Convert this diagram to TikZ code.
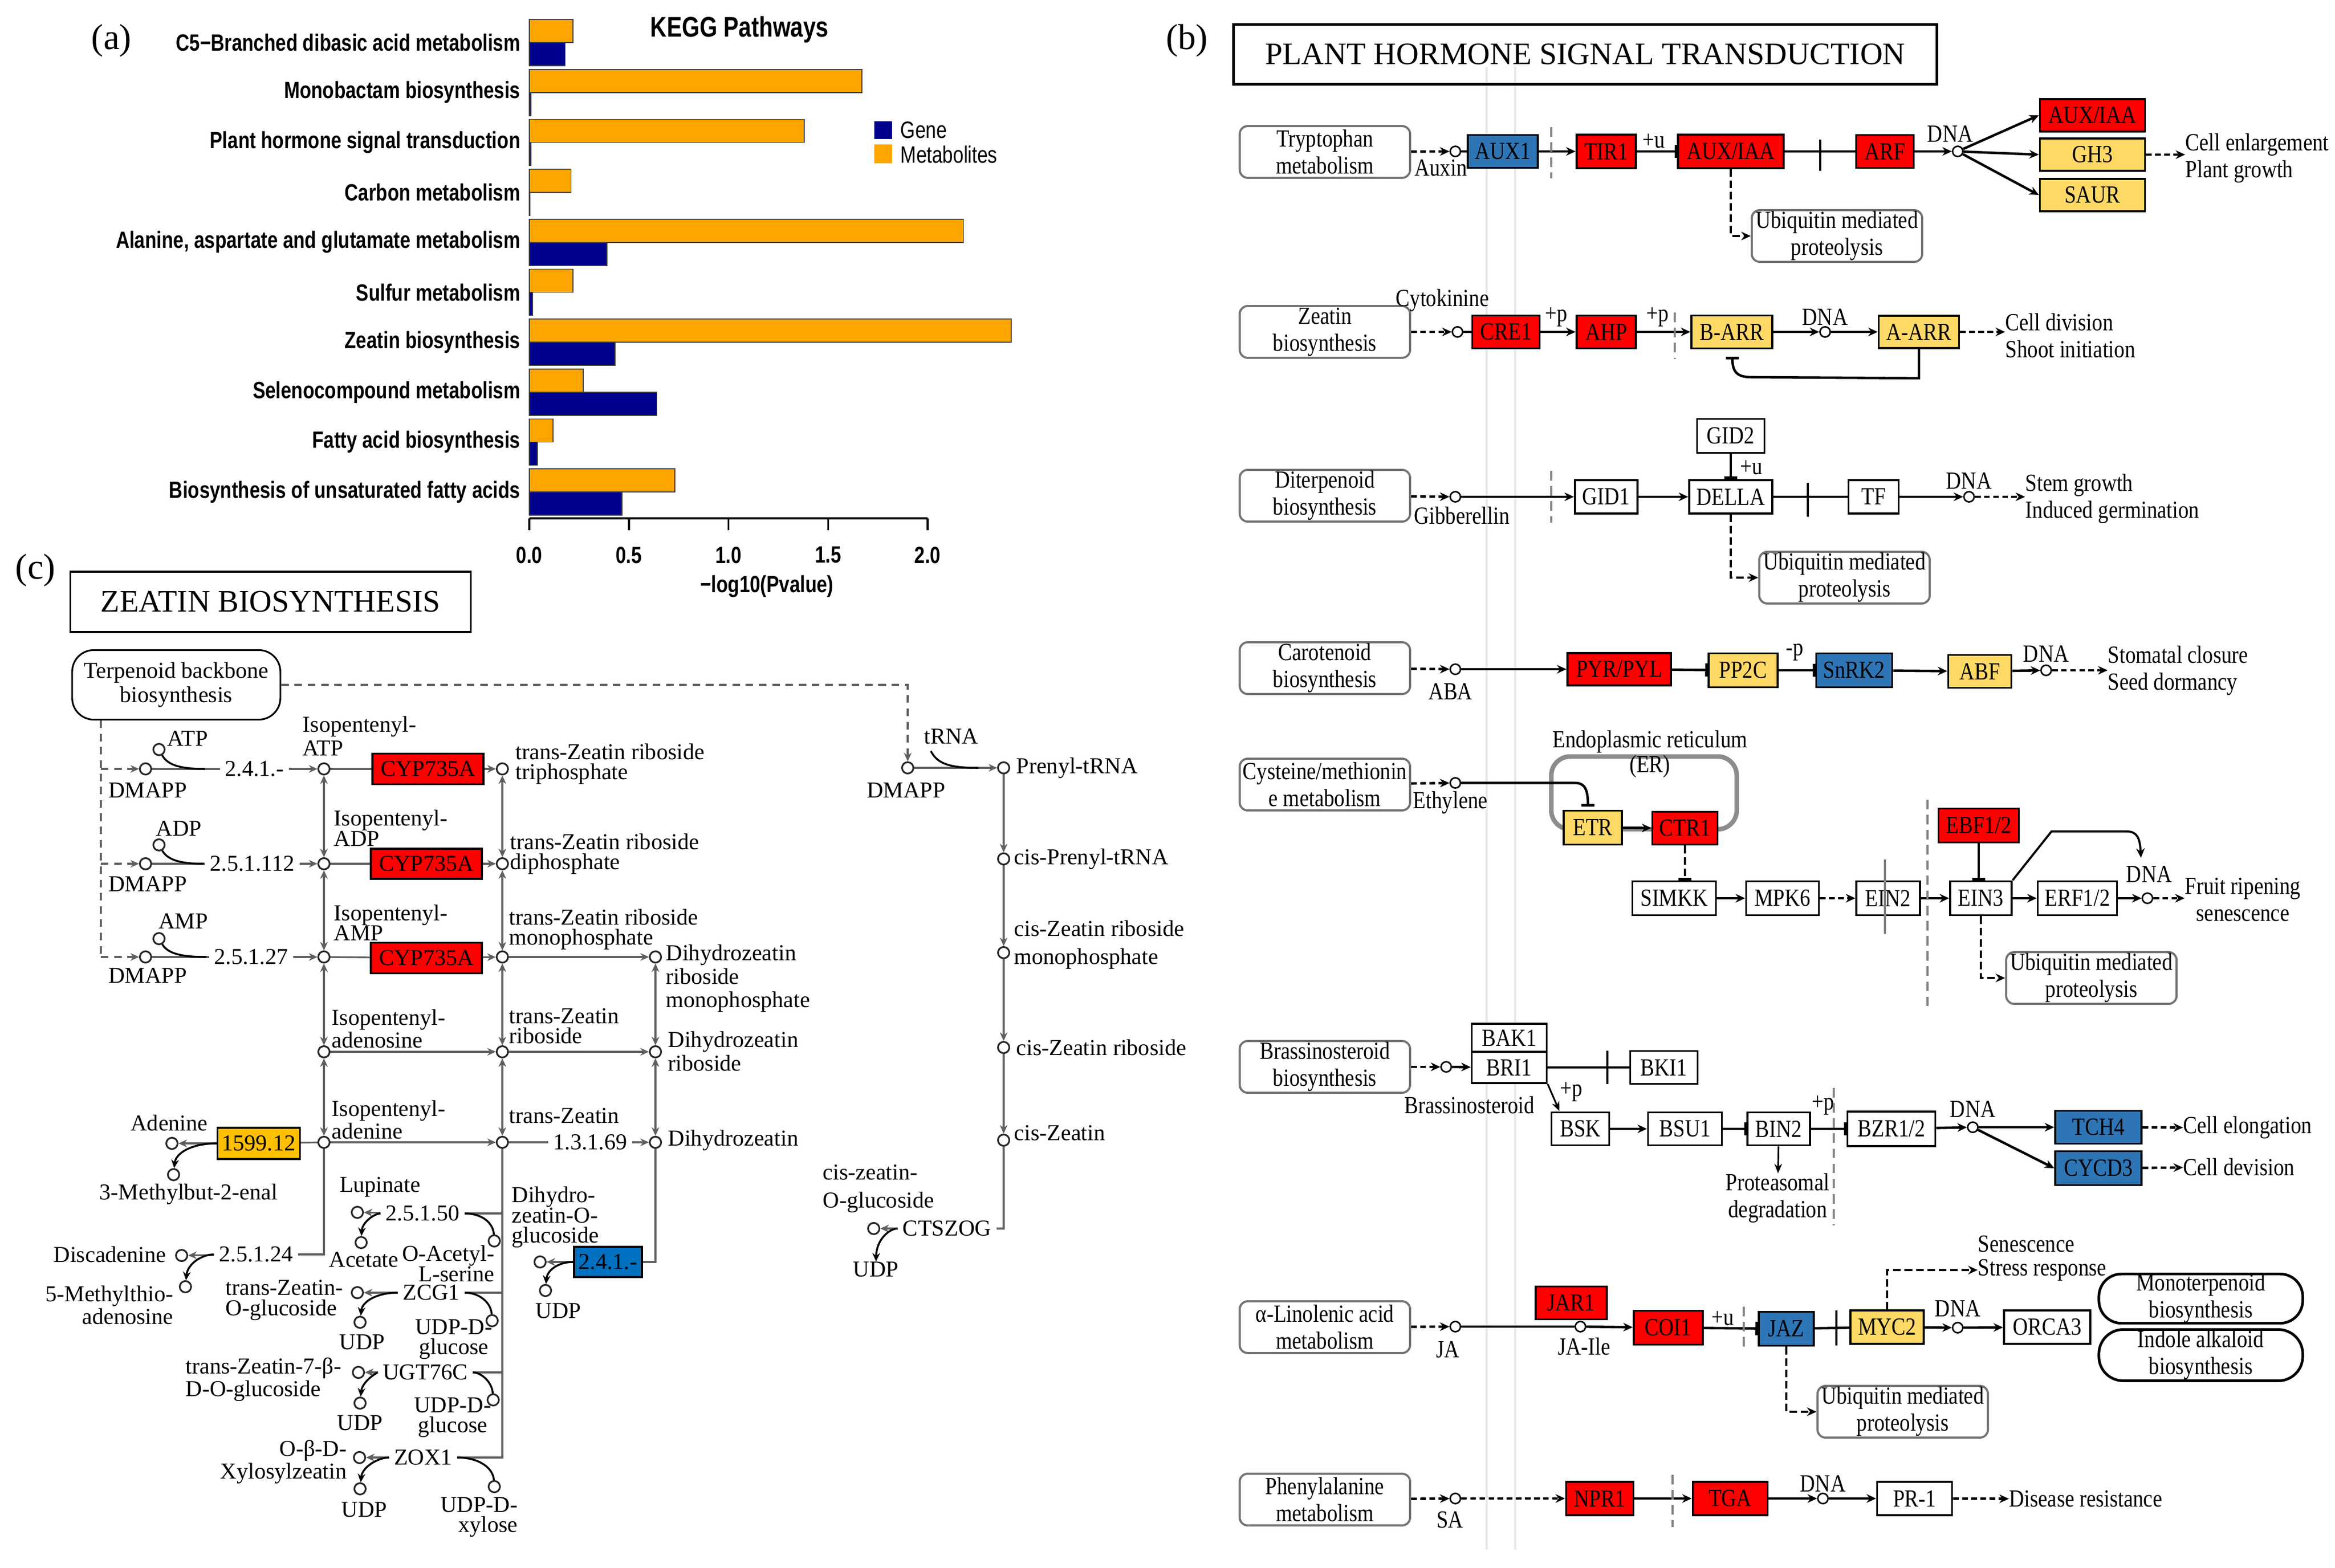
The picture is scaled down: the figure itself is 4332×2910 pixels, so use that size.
\documentclass[tikz,border=0pt]{standalone}
\usepackage{fontspec}
\setmainfont{Liberation Serif}
\setsansfont{Liberation Sans}
\newfontfamily\asans[FakeStretch=0.8]{Liberation Sans}
\newfontfamily\bserif[FakeStretch=0.85]{Liberation Serif}
\usetikzlibrary{arrows.meta,calc}
\definecolor{kred}{RGB}{255,0,0}
\definecolor{kyel}{RGB}{255,217,102}
\definecolor{kblue}{RGB}{46,117,182}
\definecolor{cgold}{RGB}{255,192,0}
\definecolor{cblue}{RGB}{0,112,192}
\definecolor{barorange}{RGB}{255,165,0}
\definecolor{barnavy}{RGB}{0,0,140}
\definecolor{cgray}{RGB}{95,95,95}
\newcommand\pafont{\asans\bfseries\fontsize{12.4}{14}\selectfont}
\newcommand\pbfont{\bserif\fontsize{13}{14.2}\selectfont}
\newcommand\pcfont{\fontsize{12}{10.6}\selectfont}
\newcommand\pcfontw{\fontsize{12}{12.4}\selectfont}
\newcommand\pcfontx{\fontsize{12}{14.8}\selectfont}
\newcommand\mkgene[7]{\node[gene,fill=#6,minimum width=#4*0.01cm,minimum height=#5*0.01cm] (#1) at (#2,#3) {#7};}
\newcommand\mkpath[4]{\node[pathbox] (#1) at (#2,#3) {#4};}
\begin{document}
\begin{tikzpicture}[x=0.01cm,y=-0.01cm,
 gene/.style={draw=black,line width=1.1pt,font=\pbfont,inner sep=0pt},
 pathbox/.style={draw=black!55,line width=1.1pt,rounded corners=0.15cm,font=\pbfont,align=center,inner sep=0pt,minimum width=3.16cm,minimum height=0.96cm,fill=white},
 met/.style={circle,draw=black,fill=white,line width=0.8pt,minimum size=0.19cm,inner sep=0pt},
 lab/.style={font=\pbfont,inner sep=0pt},
 ar/.style={line width=1.3pt,-{Stealth[length=5pt,width=4.5pt]}},
 pl/.style={line width=1.3pt},
 dar/.style={line width=1.3pt,dash pattern=on 3pt off 1.8pt,-{Stealth[length=5pt,width=4.5pt]}},
 tdar/.style={line width=0.9pt,dash pattern=on 4pt off 2pt,-{Stealth[length=5pt,width=4.5pt]}},
 inh/.style={line width=1.3pt,-{Bar[width=7pt,line width=1.3pt]}},
 sepl/.style={draw=gray,line width=1.1pt,dash pattern=on 5pt off 3pt},
 xbar/.style={draw=black,line width=0.9pt},
 barm/.style={fill=barorange,draw=black!75,line width=0.5pt},
 barg/.style={fill=barnavy,draw=black!75,line width=0.5pt},
 alab/.style={anchor=east,font=\pafont,inner sep=0pt},
 cgene/.style={draw=black,line width=0.9pt,font=\pcfont,inner sep=0pt},
 cmet/.style={circle,draw=black!85,fill=white,line width=0.9pt,minimum size=0.21cm,inner sep=0pt},
 clab/.style={font=\pcfont,inner sep=0pt},
 cenz/.style={font=\pcfont,inner sep=2.5pt},
 cline/.style={draw=cgray,line width=0.9pt},
 carr/.style={cline,-{Stealth[length=4.5pt,width=4pt]}},
 cbi/.style={cline,{Stealth[length=4.5pt,width=4pt]}-{Stealth[length=4.5pt,width=4pt]}},
 cdash/.style={cline,dash pattern=on 4pt off 3pt},
 cdasharr/.style={cdash,-{Stealth[length=4.5pt,width=4pt]}},
 cside/.style={draw=black,line width=1pt},
 csidearr/.style={cside,-{Stealth[length=4.5pt,width=4pt]}}
]
\useasboundingbox (0,0) rectangle (4332,2910);
\fill[white] (0,0) rectangle (4332,2910);

%% ================= PANEL A =================
\node[font=\fontsize{19}{20}\selectfont] (pla) at (207,75) {(a)};
\node[font=\asans\bfseries\fontsize{15}{16}\selectfont] (kegg) at (1372,55) {KEGG Pathways};
\foreach \i/\lab/\o/\b in {
0/{C5−Branched dibasic acid metabolism}/0.22/0.18,
1/{Monobactam biosynthesis}/1.67/0.008,
2/{Plant hormone signal transduction}/1.38/0.008,
3/{Carbon metabolism}/0.21/0.004,
4/{Alanine, aspartate and glutamate metabolism}/2.18/0.39,
5/{Sulfur metabolism}/0.22/0.016,
6/{Zeatin biosynthesis}/2.42/0.43,
7/{Selenocompound metabolism}/0.27/0.64,
8/{Fatty acid biosynthesis}/0.12/0.04,
9/{Biosynthesis of unsaturated fatty acids}/0.73/0.465}{
 \pgfmathsetmacro\yt{36+92.7*\i}
 \draw[barm] (982,\yt) rectangle ({982+369.5*\o},{\yt+43});
 \draw[barg] (982,{\yt+43}) rectangle ({982+369.5*\b},{\yt+86});
 \node[alab] (alab\i) at (966,{\yt+43}) {\lab};
}
\draw[line width=1.1pt] (982,962) -- (1721,962);
\foreach \t/\tl [count=\k] in {0/0.0,0.5/0.5,1/1.0,1.5/1.5,2/2.0}{
 \draw[line width=1pt] ({982+369.5*\t},962) -- ({982+369.5*\t},984);
 \node[font=\pafont,inner sep=0pt] (tk\k) at ({982+369.5*\t},1030) {\tl};
}
\node[font=\pafont,inner sep=0pt] (xlab) at (1423,1088) {−log10(Pvalue)};
\fill[barnavy] (1622,225) rectangle (1655,258);
\fill[barorange] (1622,268) rectangle (1655,303);
\node[anchor=west,font=\asans\fontsize{12.5}{14}\selectfont,inner sep=0pt] (lgene) at (1670,241) {Gene};
\node[anchor=west,font=\asans\fontsize{12.5}{14}\selectfont,inner sep=0pt] (lmetab) at (1670,287) {Metabolites};

%% ================= PANEL B =================
\draw[black!9,line width=1.2pt] (2758,124) -- (2758,2876);
\draw[black!9,line width=1.2pt] (2811,124) -- (2811,2876);
\node[font=\fontsize{19}{20}\selectfont] (plb) at (2202,75) {(b)};
\node[draw,line width=1.3pt,minimum width=13.04cm,minimum height=1.11cm,font=\fontsize{16.5}{18}\selectfont,inner sep=0pt] (btitle) at (2941,101) {PLANT HORMONE SIGNAL TRANSDUCTION};

% Row 1 auxin
\mkpath{tryp}{2458}{282}{Tryptophan\\metabolism}
\node[met] (c1) at (2700,281) {};
\node[lab] (lauxin) at (2673,312) {Auxin};
\mkgene{aux1}{2788}{281}{130}{61}{kblue}{AUX1}
\mkgene{tir1}{2980}{281}{110}{62}{kred}{TIR1}
\mkgene{auxiaa}{3211}{281}{196}{62}{kred}{AUX/IAA}
\mkgene{arf}{3497}{281}{107}{61}{kred}{ARF}
\node[met] (dna1) at (3632,281) {};
\node[lab] (ldna1) at (3618,248) {DNA};
\mkgene{auxiaa2}{3882}{214}{195}{60}{kred}{AUX/IAA}
\mkgene{gh3}{3882}{287}{195}{60}{kyel}{GH3}
\mkgene{saur}{3882}{362}{195}{60}{kyel}{SAUR}
\node[lab,anchor=west,align=left] (out1) at (4054,294) {Cell enlargement\\Plant growth};
\mkpath{ubi1}{3408}{438}{Ubiquitin mediated\\proteolysis}
\node[lab] (lu1) at (3068,262) {+u};
\draw[dar] (tryp) -- (c1);
\draw[pl] (c1) -- (aux1);
\draw[ar] (aux1) -- (tir1);
\draw[inh] (tir1) -- (auxiaa);
\draw[pl] (auxiaa) -- (arf);
\draw[xbar] (3377,259) -- (3377,317);
\draw[ar] (arf) -- (dna1);
\draw[ar] (dna1) -- (auxiaa2.west);
\draw[ar] (dna1) -- (gh3.west);
\draw[ar] (dna1) -- (saur.west);
\draw[dar] (gh3) -- (gh3 -| out1.west);
\draw[tdar] (auxiaa.south) |- (ubi1.west);
\draw[sepl] (2878,236) -- (2878,331);

% Row 2 cytokinin
\mkpath{zeat}{2458}{616}{Zeatin\\biosynthesis}
\node[met] (c2) at (2704,616) {};
\node[lab] (lcyt) at (2676,558) {Cytokinine};
\mkgene{cre1}{2794}{616}{125}{61}{kred}{CRE1}
\mkgene{ahp}{2980}{616}{110}{61}{kred}{AHP}
\mkgene{barr}{3213}{616}{150}{61}{kyel}{B-ARR}
\node[met] (dna2) at (3386,616) {};
\node[lab] (ldna2) at (3386,588) {DNA};
\mkgene{aarr}{3560}{616}{149}{60}{kyel}{A-ARR}
\node[lab,anchor=west,align=left] (out2) at (3720,623) {Cell division\\Shoot initiation};
\node[lab] (lp1) at (2887,588) {+p};
\node[lab] (lp2) at (3075,588) {+p};
\draw[dar] (zeat) -- (c2);
\draw[pl] (c2) -- (cre1);
\draw[ar] (cre1) -- (ahp);
\draw[ar] (ahp) -- (barr);
\draw[ar] (barr) -- (dna2);
\draw[ar] (dna2) -- (aarr);
\draw[dar] (aarr) -- (aarr -| out2.west);
\draw[sepl] (3107,580) -- (3107,666);
\coordinate (fb1) at (3214,662);
\draw[inh] (aarr.south) -- ++(0,54) -- (3250,700) .. controls (3222,700) and (3214,690) .. (fb1);

% Row 3 gibberellin
\mkpath{diterp}{2458}{920}{Diterpenoid\\biosynthesis}
\node[met] (c3) at (2700,922) {};
\node[lab] (lgib) at (2712,957) {Gibberellin};
\mkgene{gid1}{2980}{922}{116}{62}{white}{GID1}
\mkgene{della}{3211}{922}{154}{62}{white}{DELLA}
\mkgene{gid2}{3211}{809}{125}{63}{white}{GID2}
\mkgene{tf}{3476}{922}{93}{62}{white}{TF}
\node[met] (dna3) at (3653,922) {};
\node[lab] (ldna3) at (3653,892) {DNA};
\node[lab,anchor=west,align=left] (out3) at (3757,926) {Stem growth\\Induced germination};
\node[lab] (lu2) at (3249,868) {+u};
\mkpath{ubi2}{3422}{1072}{Ubiquitin mediated\\proteolysis}
\draw[dar] (diterp) -- (c3);
\draw[ar] (c3) -- (gid1);
\draw[ar] (gid1) -- (della);
\draw[inh] (gid2) -- (della.north);
\draw[pl] (della) -- (tf);
\draw[xbar] (3354,896) -- (3354,959);
\draw[ar] (tf) -- (dna3);
\draw[dar] (dna3) -- (dna3 -| out3.west);
\draw[tdar] (della.south) |- (ubi2.west);
\draw[sepl] (2878,874) -- (2878,970);

% Row 4 ABA
\mkpath{carot}{2458}{1240}{Carotenoid\\biosynthesis}
\node[met] (c4) at (2700,1242) {};
\node[lab] (lab4) at (2691,1283) {ABA};
\mkgene{pyr}{3004}{1242}{192}{60}{kred}{PYR/PYL}
\mkgene{pp2c}{3234}{1244}{128}{63}{kyel}{PP2C}
\mkgene{snrk2}{3440}{1244}{141}{63}{kblue}{SnRK2}
\mkgene{abf}{3673}{1246}{117}{61}{kyel}{ABF}
\node[met] (dna4) at (3796,1244) {};
\node[lab] (ldna4) at (3796,1213) {DNA};
\node[lab,anchor=west,align=left] (out4) at (3910,1245) {Stomatal closure\\Seed dormancy};
\node[lab] (lmp) at (3330,1211) {-p};
\draw[dar] (carot) -- (c4);
\draw[ar] (c4) -- (pyr);
\draw[inh] (pyr) -- (pp2c);
\draw[inh] (pp2c) -- (snrk2);
\draw[ar] (snrk2) -- (abf);
\draw[ar] (abf) -- (dna4);
\draw[dar] (dna4) -- (dna4 -| out4.west);

% Row 5 ethylene
\node[lab] (ler) at (3061,1377) {Endoplasmic reticulum};
\draw[draw=black!45,line width=2.4pt,rounded corners=0.35cm] (2878,1404) rectangle (3222,1539);
\node[lab] (ler2) at (3061,1423) {(ER)};
\mkpath{cyst}{2458}{1456}{Cysteine/methionin\\e metabolism}
\node[met] (c5) at (2700,1453) {};
\node[lab] (leth) at (2691,1490) {Ethylene};
\mkgene{etr}{2955}{1536}{108}{63}{kyel}{ETR}
\mkgene{ctr1}{3126}{1537}{121}{61}{kred}{CTR1}
\mkgene{simkk}{3106}{1667}{155}{63}{white}{SIMKK}
\mkgene{mpk6}{3307}{1667}{135}{63}{white}{MPK6}
\mkgene{ein2}{3503}{1667}{118}{63}{white}{EIN2}
\mkgene{ein3}{3675}{1667}{114}{63}{white}{EIN3}
\mkgene{erf}{3854}{1667}{147}{63}{white}{ERF1/2}
\mkgene{ebf}{3671}{1532}{149}{63}{kred}{EBF1/2}
\node[met] (dna5) at (3984,1667) {};
\node[lab] (ldna5) at (3987,1622) {DNA};
\node[lab,align=center] (out5) at (4161,1670) {Fruit ripening\\senescence};
\mkpath{ubi3}{3880}{1815}{Ubiquitin mediated\\proteolysis}
\draw[dar] (cyst) -- (c5);
\coordinate (etrin) at (2946,1497);
\draw[inh] (c5) -- (2922,1453) .. controls (2940,1453) and (2946,1465) .. (etrin);
\draw[ar] (etr) -- (ctr1);
\draw[line width=1pt,dash pattern=on 4pt off 2pt,-{Bar[width=7pt,line width=1.3pt]}] (ctr1) -- (ctr1 |- simkk.north);
\draw[ar] (simkk) -- (mpk6);
\draw[dar] (mpk6) -- (ein2);
\draw[ar] (ein2) -- (ein3);
\draw[line width=1pt,-{Bar[width=7pt,line width=1.3pt]}] (ebf) -- (ein3.north -| ebf);
\draw[ar] (ein3) -- (erf);
\draw[ar] (erf) -- (dna5);
\draw[dar] (dna5) -- (dna5 -| out5.west);
\coordinate (ein3a) at (3806,1543);
\coordinate (dnatop) at (3972,1592);
\draw[line width=1.1pt,-{Stealth[length=5pt,width=4.5pt]}] (ein3.north east) -- (ein3a) -- (3945,1543) .. controls (3965,1543) and (3970,1555) .. (dnatop);
\draw[tdar] (ein3.south) |- (ubi3.west);
\draw[draw=gray,line width=1pt] (3497,1595) -- (3497,1733);
\draw[sepl] (3576,1484) -- (3576,1870);

% Row 6 brassinosteroid
\mkpath{brass}{2458}{1980}{Brassinosteroid\\biosynthesis}
\node[met] (c6) at (2683,1980) {};
\node[lab] (lbr) at (2726,2051) {Brassinosteroid};
\mkgene{bak1}{2800}{1926}{139}{52}{white}{BAK1}
\mkgene{bri1}{2800}{1981}{139}{58}{white}{BRI1}
\mkgene{bki1}{3087}{1981}{125}{61}{white}{BKI1}
\mkgene{bsk}{2932}{2095}{107}{61}{white}{BSK}
\mkgene{bsu1}{3126}{2095}{137}{61}{white}{BSU1}
\mkgene{bin2}{3300}{2095}{116}{61}{white}{BIN2}
\mkgene{bzr}{3509}{2095}{163}{64}{white}{BZR1/2}
\node[met] (dna6) at (3660,2092) {};
\node[lab] (ldna6) at (3660,2058) {DNA};
\mkgene{tch4}{3893}{2092}{160}{61}{kblue}{TCH4}
\mkgene{cycd3}{3893}{2168}{160}{63}{kblue}{CYCD3}
\node[lab,anchor=west] (out6a) at (4050,2093) {Cell elongation};
\node[lab,anchor=west] (out6b) at (4050,2166) {Cell devision};
\node[lab,align=center] (prot) at (3298,2224) {Proteasomal\\degradation};
\node[lab] (lp3) at (2915,2026) {+p};
\node[lab] (lp4) at (3382,2051) {+p};
\draw[dar] (brass) -- (c6);
\draw[ar] (c6) -- (bri1);
\draw[pl] (bri1) -- (bki1);
\draw[xbar] (2982,1950) -- (2982,2012);
\coordinate (bskin) at (2893,2062);
\draw[line width=0.9pt,-{Stealth[length=5pt,width=4pt]}] (bri1.south east) -- (bskin);
\draw[ar] (bsk) -- (bsu1);
\draw[inh] (bsu1) -- (bin2);
\draw[inh] (bin2) -- (bzr);
\draw[line width=0.9pt,-{Stealth[length=5pt,width=4pt]}] (bin2) -- (prot);
\draw[ar] (bzr) -- (dna6);
\draw[ar] (dna6) -- (tch4.west);
\draw[ar] (dna6) -- (cycd3.west);
\draw[dar] (tch4) -- (out6a);
\draw[dar] (cycd3) -- (out6b);
\draw[sepl] (3402,2019) -- (3402,2274);

% Row 7 JA
\node[lab,anchor=west] (sen) at (3669,2309) {Senescence};
\node[lab,anchor=west] (stress) at (3669,2357) {Stress response};
\mkpath{alin}{2458}{2463}{α-Linolenic acid\\metabolism}
\node[met] (c7) at (2700,2462) {};
\node[lab] (lja) at (2686,2505) {JA};
\mkgene{jar1}{2915}{2418}{132}{61}{kred}{JAR1}
\node[met] (c7b) at (2932,2462) {};
\node[lab] (ljai) at (2939,2499) {JA-Ile};
\mkgene{coi1}{3095}{2464}{128}{63}{kred}{COI1}
\node[lab] (lu3) at (3196,2447) {+u};
\mkgene{jaz}{3314}{2466}{102}{63}{kblue}{JAZ}
\mkgene{myc2}{3501}{2463}{136}{62}{kyel}{MYC2}
\node[met] (dna7) at (3632,2464) {};
\node[lab] (ldna7) at (3632,2428) {DNA};
\mkgene{orca3}{3798}{2463}{160}{62}{white}{ORCA3}
\node[pathbox,rounded corners=0.42cm,line width=1.4pt,draw=black,minimum width=3.78cm,minimum height=0.87cm] (mono) at (4083,2410) {Monoterpenoid\\biosynthesis};
\node[pathbox,rounded corners=0.45cm,line width=1.4pt,draw=black,minimum width=3.78cm,minimum height=0.95cm] (indole) at (4083,2515) {Indole alkaloid\\biosynthesis};
\mkpath{ubi4}{3530}{2620}{Ubiquitin mediated\\proteolysis}
\draw[dar] (alin) -- (c7);
\draw[pl] (c7) -- (c7b);
\draw[ar] (c7b) -- (coi1);
\draw[inh] (coi1) -- (jaz);
\draw[pl] (jaz) -- (myc2);
\draw[xbar] (3407,2432) -- (3407,2497);
\draw[ar] (myc2) -- (dna7);
\draw[ar] (dna7) -- (orca3);
\draw[tdar] (myc2.north) |- (stress.west);
\draw[tdar] (jaz.south) |- (ubi4.west);
\draw[sepl] (3235,2425) -- (3235,2505);

% Row 8 SA
\mkpath{phen}{2458}{2783}{Phenylalanine\\metabolism}
\node[met] (c8) at (2700,2781) {};
\node[lab] (lsa) at (2690,2821) {SA};
\mkgene{npr1}{2968}{2781}{125}{62}{kred}{NPR1}
\mkgene{tga}{3210}{2781}{139}{62}{kred}{TGA}
\node[met] (dna8) at (3382,2781) {};
\node[lab] (ldna8) at (3382,2753) {DNA};
\mkgene{pr1}{3552}{2781}{139}{62}{white}{PR-1}
\node[lab,anchor=west] (out8) at (3727,2782) {Disease resistance};
\draw[dar] (phen) -- (c8);
\draw[dar] (c8) -- (npr1);
\draw[ar] (npr1) -- (tga);
\draw[ar] (tga) -- (dna8);
\draw[ar] (dna8) -- (pr1);
\draw[dar] (pr1) -- (out8);
\draw[sepl] (3103,2737) -- (3103,2834);

%% ================= PANEL C =================
\node[font=\fontsize{19}{20}\selectfont] (plc) at (66,1058) {(c)};
\node[draw,line width=1pt,minimum width=7.43cm,minimum height=1.12cm,font=\fontsize{16.5}{18}\selectfont,inner sep=0pt] (ctitle) at (502,1117) {ZEATIN BIOSYNTHESIS};
\node[draw=black,line width=0.9pt,rounded corners=0.4cm,minimum width=3.86cm,minimum height=1.29cm,align=center,font=\fontsize{12}{13}\selectfont,inner sep=0pt] (tb) at (327,1271) {Terpenoid backbone\\biosynthesis};

% circles
\node[cmet] (dm1) at (270,1427) {};
\node[cmet] (dm2) at (270,1603) {};
\node[cmet] (dm3) at (270,1776) {};
\node[cmet] (atp) at (295,1391) {};
\node[cmet] (adp) at (295,1568) {};
\node[cmet] (amp) at (295,1742) {};
\node[cmet] (ip1) at (601,1427) {};
\node[cmet] (ip2) at (601,1603) {};
\node[cmet] (ip3) at (601,1776) {};
\node[cmet] (ip4) at (601,1952) {};
\node[cmet] (ip5) at (601,2120) {};
\node[cmet] (tz1) at (932,1427) {};
\node[cmet] (tz2) at (932,1603) {};
\node[cmet] (tz3) at (932,1776) {};
\node[cmet] (tz4) at (932,1952) {};
\node[cmet] (tz5) at (932,2120) {};
\node[cmet] (dz1) at (1216,1776) {};
\node[cmet] (dz2) at (1216,1952) {};
\node[cmet] (dz3) at (1216,2120) {};

% labels rows A-C
\node[clab] (latp) at (348,1371) {ATP};
\node[clab] (ladp) at (332,1538) {ADP};
\node[clab] (lamp) at (340,1710) {AMP};
\node[clab] (ldm1) at (274,1467) {DMAPP};
\node[clab] (ldm2) at (274,1641) {DMAPP};
\node[clab] (ldm3) at (274,1811) {DMAPP};
\node[cenz] (e1) at (472,1427) {2.4.1.-};
\node[cenz] (e2) at (468,1603) {2.5.1.112};
\node[cenz] (e3) at (466,1776) {2.5.1.27};
\node[cgene,fill=kred,minimum width=2.06cm,minimum height=0.57cm] (cyp1) at (794,1427) {CYP735A};
\node[cgene,fill=kred,minimum width=2.06cm,minimum height=0.56cm] (cyp2) at (791,1603) {CYP735A};
\node[cgene,fill=kred,minimum width=2.06cm,minimum height=0.57cm] (cyp3) at (791,1778) {CYP735A};
\node[clab,anchor=west,align=left,font=\pcfontw] (lip1) at (561,1366) {Isopentenyl-\\ATP};
\node[clab,anchor=west,align=left] (lip2) at (619,1537) {Isopentenyl-\\ADP};
\node[clab,anchor=west,align=left] (lip3) at (619,1712) {Isopentenyl-\\AMP};
\node[clab,anchor=west,align=left] (lip4) at (615,1909) {Isopentenyl-\\adenosine};
\node[clab,anchor=west,align=left] (lip5) at (615,2078) {Isopentenyl-\\adenine};
\node[clab,anchor=west,align=left] (ltz1) at (956,1418) {trans-Zeatin riboside\\triphosphate};
\node[clab,anchor=west,align=left] (ltz2) at (946,1585) {trans-Zeatin riboside\\diphosphate};
\node[clab,anchor=west,align=left] (ltz3) at (944,1725) {trans-Zeatin riboside\\monophosphate};
\node[clab,anchor=west,align=left] (ltz4) at (944,1904) {trans-Zeatin\\riboside};
\node[clab,anchor=west] (ltz5) at (944,2071) {trans-Zeatin};
\node[clab,anchor=west,align=left,font=\pcfontw] (ldz1) at (1235,1816) {Dihydrozeatin\\riboside\\monophosphate};
\node[clab,anchor=west,align=left,font=\pcfontw] (ldz2) at (1239,1951) {Dihydrozeatin\\riboside};
\node[clab,anchor=west] (ldz3) at (1239,2116) {Dihydrozeatin};

% terpenoid dashed links
\coordinate (j1) at (187,1427);
\coordinate (j2) at (187,1603);
\coordinate (j3) at (187,1776);
\draw[cdash] (tb.south -| j1) -- (j3);
\draw[cdasharr] (j1) -- (dm1);
\draw[cdasharr] (j2) -- (dm2);
\draw[cdasharr] (j3) -- (dm3);

% rows A-C
\draw[cline] (dm1) -- (e1);
\draw[cline] (dm2) -- (e2);
\draw[cline] (dm3) -- (e3);
\draw[cside] (atp) .. controls (312,1422) and (340,1427) .. ($(e1.west)+(-28,0)$);
\draw[cside] (adp) .. controls (312,1598) and (340,1603) .. ($(e2.west)+(-2,0)$);
\draw[cside] (amp) .. controls (312,1771) and (340,1776) .. ($(e3.west)+(-5,0)$);
\draw[carr] (e1) -- (ip1);
\draw[carr] (e2) -- (ip2);
\draw[carr] (e3) -- (ip3);
\draw[cline] (ip1) -- (cyp1);
\draw[cline] (ip2) -- (cyp2);
\draw[cline] (ip3) -- (cyp3);
\draw[carr] (cyp1) -- (tz1);
\draw[carr] (cyp2) -- (tz2);
\draw[carr] (cyp3) -- (tz3);
\draw[cbi] (ip1) -- (ip2);
\draw[cbi] (ip2) -- (ip3);
\draw[cbi] (ip3) -- (ip4);
\draw[cbi] (ip4) -- (ip5);
\draw[cbi] (tz1) -- (tz2);
\draw[cbi] (tz2) -- (tz3);
\draw[cbi] (tz3) -- (tz4);
\draw[cbi] (tz4) -- (tz5);
\draw[cbi] (dz1) -- (dz2);
\draw[cbi] (dz2) -- (dz3);
\draw[carr] (tz3) -- (dz1);
\draw[carr] (ip4) -- (tz4);
\draw[carr] (tz4) -- (dz2);
\draw[carr] (ip5) -- (tz5);
\node[cenz] (e5) at (1095,2120) {1.3.1.69};
\draw[cline] (tz5) -- (e5);
\draw[carr] (e5) -- (dz3);

% 1599.12 branch
\node[cgene,fill=cgold,minimum width=1.53cm,minimum height=0.58cm] (b1599) at (480,2122) {1599.12};
\node[cmet] (aden) at (319,2122) {};
\node[cmet] (meth) at (322,2180) {};
\node[clab] (laden) at (314,2084) {Adenine};
\node[clab] (lmeth) at (350,2216) {3-Methylbut-2-enal};
\draw[cline] (ip5) -- (b1599);
\draw[carr] (b1599) -- (aden);
\draw[csidearr] (b1599.west) .. controls (355,2122) and (326,2140) .. (meth);

% discadenine branch
\node[cenz] (e6) at (475,2328) {2.5.1.24};
\node[cmet] (disc) at (337,2330) {};
\node[cmet] (mta) at (344,2388) {};
\node[clab,anchor=east] (ldisc) at (309,2328) {Discadenine};
\node[clab,anchor=east,align=right] (lmta) at (322,2422) {5-Methylthio-\\adenosine};
\draw[cline] (ip5) |- (e6);
\draw[carr] (e6) -- (disc);
\draw[csidearr] (e6.west) .. controls (375,2328) and (348,2345) .. (mta);

% trans-zeatin column branches
\node[cenz] (f1) at (784,2252) {2.5.1.50};
\node[cenz] (f2) at (800,2399) {ZCG1};
\node[cenz] (f3) at (789,2547) {UGT76C};
\node[cenz] (f4) at (785,2705) {ZOX1};
\draw[cline] (tz5) |- (f4);
\draw[cline] (tz5 |- f1) -- (f1);
\draw[cline] (tz5 |- f2) -- (f2);
\draw[cline] (tz5 |- f3) -- (f3);

\node[cmet] (lup) at (663,2250) {};
\node[cmet] (acet) at (670,2306) {};
\node[cmet] (oas) at (917,2303) {};
\node[clab] (llup) at (705,2203) {Lupinate};
\node[clab] (lacet) at (675,2338) {Acetate};
\node[clab,anchor=east,align=right] (loas) at (918,2345) {O-Acetyl-\\L-serine};
\draw[carr] (f1) -- (lup);
\draw[csidearr] (f1.west) .. controls (695,2252) and (672,2268) .. (acet);
\draw[cside] (f1.east) .. controls (895,2252) and (915,2270) .. (oas);

\node[cmet] (tzog) at (663,2399) {};
\node[cmet] (udp1) at (668,2454) {};
\node[cmet] (udpg1) at (913,2451) {};
\node[clab,anchor=west,align=left] (ltzog) at (418,2413) {trans-Zeatin-\\O-glucoside};
\node[clab] (ludp1) at (672,2491) {UDP};
\node[clab,align=center] (ludpg1) at (842,2486) {UDP-D-\\glucose};
\draw[carr] (f2) -- (tzog);
\draw[csidearr] (f2.west) .. controls (700,2399) and (672,2415) .. (udp1);
\draw[cside] (f2.east) .. controls (890,2399) and (911,2418) .. (udpg1);

\node[cmet] (tz7) at (665,2547) {};
\node[cmet] (udp2) at (668,2604) {};
\node[cmet] (udpg2) at (915,2598) {};
\node[clab,anchor=west,align=left] (ltz7) at (344,2560) {trans-Zeatin-7-β-\\D-O-glucoside};
\node[clab] (ludp2) at (668,2641) {UDP};
\node[clab,align=center] (ludpg2) at (840,2631) {UDP-D-\\glucose};
\draw[carr] (f3) -- (tz7);
\draw[csidearr] (f3.west) .. controls (700,2547) and (672,2563) .. (udp2);
\draw[cside] (f3.east) .. controls (893,2547) and (913,2565) .. (udpg2);

\node[cmet] (xyl) at (667,2705) {};
\node[cmet] (udp3) at (668,2763) {};
\node[cmet] (udpx) at (917,2759) {};
\node[clab,anchor=east,align=right] (lxyl) at (644,2713) {O-β-D-\\Xylosylzeatin};
\node[clab] (ludp3) at (676,2802) {UDP};
\node[clab,anchor=east,align=right] (ludpx) at (961,2816) {UDP-D-\\xylose};
\draw[carr] (f4) -- (xyl);
\draw[csidearr] (f4.west) .. controls (702,2705) and (672,2722) .. (udp3);
\draw[cside] (f4.east) .. controls (890,2705) and (915,2725) .. (udpx);

% dihydrozeatin branch
\node[cgene,fill=cblue,minimum width=1.26cm,minimum height=0.56cm] (e7) at (1128,2342) {2.4.1.-};
\node[cmet] (dzog) at (1002,2342) {};
\node[cmet] (udp4) at (1012,2395) {};
\node[clab] (ludp4) at (1036,2433) {UDP};
\node[clab,anchor=west,align=left] (ldzog) at (949,2259) {Dihydro-\\zeatin-O-\\glucoside};
\draw[cline] (dz3) |- (e7);
\draw[carr] (e7) -- (dzog);
\draw[csidearr] (e7.west) .. controls (1035,2342) and (1015,2358) .. (udp4);

% tRNA branch
\node[cmet] (dmt) at (1684,1425) {};
\node[clab] (ldmt) at (1681,1467) {DMAPP};
\node[clab] (ltrna) at (1765,1367) {tRNA};
\node[cmet] (ptr) at (1862,1425) {};
\node[cmet] (cptr) at (1862,1594) {};
\node[cmet] (czrmp) at (1862,1768) {};
\node[cmet] (czr) at (1862,1944) {};
\node[cmet] (cz) at (1862,2116) {};
\node[clab,anchor=west] (lptr) at (1885,1425) {Prenyl-tRNA};
\node[clab,anchor=west] (lcptr) at (1881,1594) {cis-Prenyl-tRNA};
\node[clab,anchor=west,align=left,font=\pcfontx] (lczrmp) at (1881,1753) {cis-Zeatin riboside\\monophosphate};
\node[clab,anchor=west] (lczr) at (1885,1944) {cis-Zeatin riboside};
\node[clab,anchor=west] (lcz) at (1881,2103) {cis-Zeatin};
\node[cenz] (ctz) at (1757,2280) {CTSZOG};
\node[cmet] (czog) at (1621,2280) {};
\node[clab,anchor=west,align=left,font=\pcfontx] (lczog) at (1526,2206) {cis-zeatin-\\O-glucoside};
\node[clab] (ludpc) at (1625,2356) {UDP};
\draw[cdasharr] (tb.east) -| (dmt);
\draw[carr] (dmt) -- (ptr);
\coordinate (trs) at (1727,1394);
\draw[cside] (trs) .. controls (1740,1420) and (1768,1425) .. (1815,1425);
\draw[carr] (ptr) -- (cptr);
\draw[carr] (cptr) -- (czrmp);
\draw[carr] (czrmp) -- (czr);
\draw[carr] (czr) -- (cz);
\draw[cline] (cz) |- (ctz);
\draw[carr] (ctz) -- (czog);
\draw[csidearr] (ctz.west) .. controls (1650,2280) and (1626,2300) .. (ludpc);
\end{tikzpicture}
\end{document}
